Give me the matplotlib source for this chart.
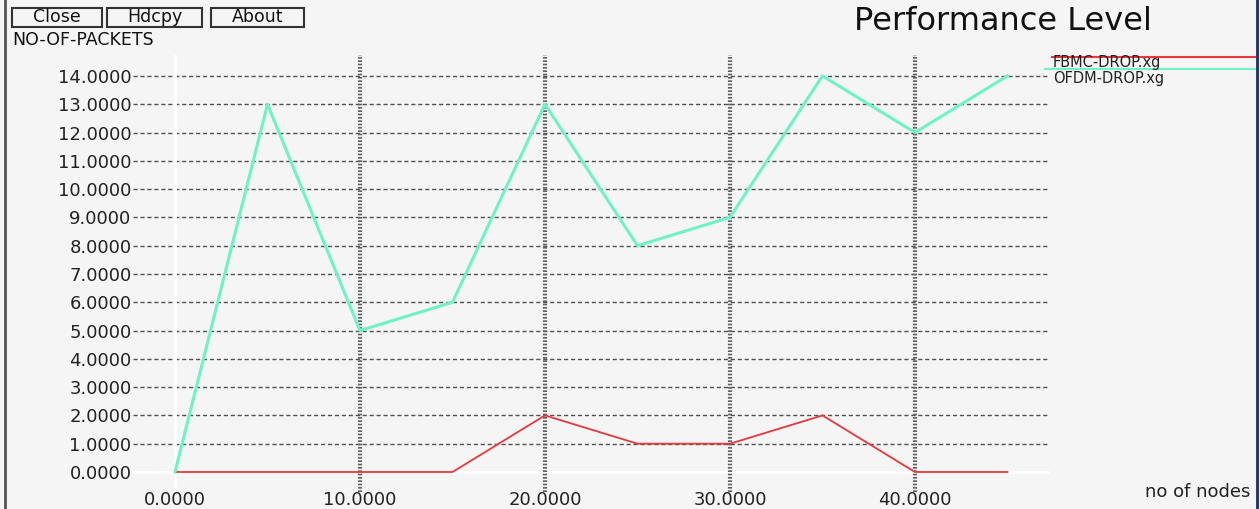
import matplotlib
matplotlib.use("Agg")
import matplotlib.pyplot as plt
from matplotlib.patches import Rectangle
from matplotlib.lines import Line2D

# Data
nodes = [0, 5, 10, 15, 20, 25, 30, 35, 40, 45]
fbmc_drop = [0, 0, 0, 0, 2, 1, 1, 2, 0, 0]
ofdm_drop = [0, 13, 5, 6, 13, 8, 9, 14, 12, 14]
y_ticks = list(range(0, 15))
x_ticks = [0, 10, 20, 30, 40]
series_names = ["FBMC-DROP.xg", "OFDM-DROP.xg"]

W, H = 1260, 509
bg = "#f5f5f5"
red = "#e8383c"
green = "#6ff2c4"

fig = plt.figure(figsize=(W / 100, H / 100), dpi=100, facecolor=bg)


def fx(px):
    return px / W


def fy(py):
    return 1 - py / H


# plot area (pixels): x 133..1050, y 55..492
ax = fig.add_axes([fx(133), fy(492), fx(1050) - fx(133), fy(55) - fy(492)])
ax.set_facecolor(bg)
for s in ax.spines.values():
    s.set_visible(False)
ax.set_xlim(-2.27, 47.3)
ax.set_ylim(-0.707, 14.74)

# grid: dashed horizontals, heavy dotted verticals, white zero axes
for y in y_ticks[1:]:
    ax.axhline(y, color="#505050", lw=1.0, ls=(0, (3, 2)), zorder=1)
ax.axhline(0, color="white", lw=2, zorder=1)
ax.axvline(0, color="white", lw=2, zorder=1)
for x in x_ticks[1:]:
    ax.axvline(x, color="#606060", lw=3.0, ls=(0, (0.4, 0.4)), zorder=1)

ax.plot(nodes, fbmc_drop, color=red, lw=1.3, zorder=3)
ax.plot(nodes, ofdm_drop, color=green, lw=2.2, zorder=3)

ax.set_yticks(y_ticks)
ax.set_yticklabels([f"{v:.4f}" for v in y_ticks])
ax.set_xticks(x_ticks)
ax.set_xticklabels([f"{v:.4f}" for v in x_ticks])
ax.tick_params(length=0, labelsize=13, labelcolor="#222222")
ax.tick_params(axis="y", pad=1)
ax.tick_params(axis="x", pad=-1)

# window decorations
fig.add_artist(Line2D([fx(5), fx(5)], [0, 1], color="#555555", lw=2))
fig.add_artist(Line2D([fx(1257), fx(1257)], [0, 1], color="#1f2a6a", lw=2))

for label, x0, x1 in [("Close", 12, 102), ("Hdcpy", 107, 202), ("About", 211, 304)]:
    fig.add_artist(Rectangle((fx(x0), fy(27)), fx(x1) - fx(x0), fy(8) - fy(27),
                             fill=False, edgecolor="#333333", lw=1.5))
    fig.text(fx((x0 + x1) / 2), fy(17.5), label, ha="center", va="center",
             fontsize=12.5, color="#111111")

fig.text(fx(12), fy(40), "NO-OF-PACKETS", ha="left", va="center",
         fontsize=12.5, color="#111111")
fig.text(fx(1003), fy(22), "Performance Level", ha="center", va="center",
         fontsize=23, color="#111111")
fig.text(fx(1250), fy(492), "no of nodes", ha="right", va="center",
         fontsize=13, color="#222222")

# legend, xgraph style
for name, color, ly, ty, lx in [(series_names[0], red, 57, 62, 1052),
                                (series_names[1], green, 69, 78, 1045)]:
    fig.add_artist(Line2D([fx(lx), fx(1255)], [fy(ly), fy(ly)], color=color, lw=1.5))
    fig.text(fx(1053), fy(ty), name, ha="left", va="center",
             fontsize=10.5, color="#222222")

fig.savefig("out.png", dpi=100, facecolor=bg)
